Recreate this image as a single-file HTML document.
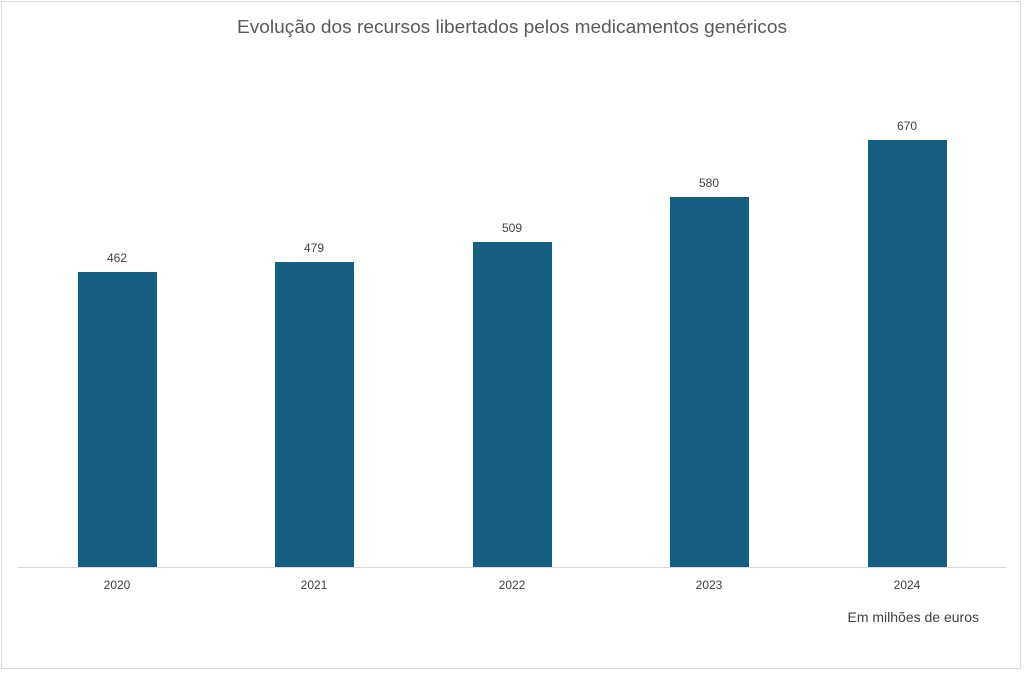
<!DOCTYPE html>
<html><head><meta charset="utf-8"><style>
body{margin:0;background:#fff;}
svg text{font-family:"Liberation Sans",sans-serif;}
</style></head><body>
<svg width="1024" height="672" xmlns="http://www.w3.org/2000/svg">
<rect x="1.5" y="1.5" width="1019" height="667" fill="#fff" stroke="#d9d9d9"/>
<text x="512" y="33" text-anchor="middle" font-size="18.5" fill="#595959" textLength="550" lengthAdjust="spacingAndGlyphs">Evolução dos recursos libertados pelos medicamentos genéricos</text>
<g fill="#156082">
<rect x="78" y="272" width="79" height="295"/>
<rect x="275" y="262" width="79" height="305"/>
<rect x="473" y="242" width="79" height="325"/>
<rect x="670" y="197" width="79" height="370"/>
<rect x="868" y="140" width="79" height="427"/>
</g>
<line x1="18" y1="567.5" x2="1006" y2="567.5" stroke="#d9d9d9"/>
<g font-size="12" fill="#404040" text-anchor="middle">
<text x="117" y="262">462</text><text x="314" y="252">479</text><text x="512" y="232">509</text><text x="709" y="187">580</text><text x="907" y="130">670</text>
<text x="117" y="589">2020</text><text x="314" y="589">2021</text><text x="512" y="589">2022</text><text x="709" y="589">2023</text><text x="907" y="589">2024</text>
</g>
<text x="979" y="622" text-anchor="end" font-size="14" fill="#404040">Em milhões de euros</text>
</svg>
</body></html>
